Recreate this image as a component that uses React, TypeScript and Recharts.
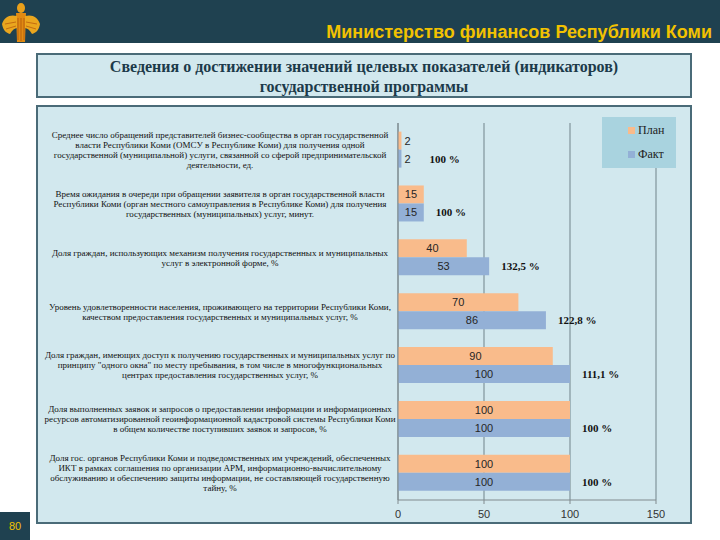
import React from "react";
import { BarChart, Bar, XAxis, YAxis, CartesianGrid, LabelList } from "recharts";

const indicators = [
  "Среднее число обращений представителей бизнес-сообщества в орган государственной\nвласти Республики Коми (ОМСУ в Республике Коми) для получения одной\nгосударственной (муниципальной) услуги, связанной со сферой предпринимательской\nдеятельности, ед.",
  "Время ожидания в очереди при обращении заявителя в орган государственной власти\nРеспублики Коми (орган местного самоуправления в Республике Коми) для получения\nгосударственных (муниципальных) услуг, минут.",
  "Доля граждан, использующих механизм получения государственных и муниципальных\nуслуг в электронной форме, %",
  "Уровень удовлетворенности населения, проживающего на территории Республики Коми,\nкачеством предоставления государственных и муниципальных услуг, %",
  "Доля граждан, имеющих доступ к получению государственных и муниципальных услуг по\nпринципу \"одного окна\" по месту пребывания, в том числе в многофункциональных\nцентрах предоставления государственных услуг, %",
  "Доля выполненных заявок и запросов о предоставлении информации и информационных\nресурсов автоматизированной геоинформационной кадастровой системы Республики Коми\nв общем количестве поступивших заявок и запросов, %",
  "Доля гос. органов Республики Коми и подведомственных им учреждений, обеспеченных\nИКТ в рамках соглашения по организации АРМ, информационно-вычислительному\nобслуживанию и обеспечению защиты информации, не составляющей государственную\nтайну, %",
];
const plan = [2, 15, 40, 70, 90, 100, 100];
const fact = [2, 15, 53, 86, 100, 100, 100];
const achievement = ["100 %", "100 %", "132,5 %", "122,8 %", "111,1 %", "100 %", "100 %"];
const xTicks = [0, 50, 100, 150];
const seriesNames = ["План", "Факт"];

const data = indicators.map((name, i) => ({ name, plan: plan[i], fact: fact[i], pct: achievement[i] }));

const PLAN_COLOR = "#f9bb8b";
const FACT_COLOR = "#93b0d6";
const BOX_BG = "#d2e8ee";
const BOX_BORDER = "#4a6b78";
const DARK = "#1f4150";
const GOLD = "#f2c200";
const SERIF = "'Liberation Serif', 'Times New Roman', serif";
const SANS = "'Liberation Sans', Arial, sans-serif";

function IndicatorTick(props: any) {
  const { x, y, payload } = props;
  const lines = String(payload.value).split("\n");
  const lh = 10;
  const top = y - ((lines.length - 1) * lh) / 2;
  const cx = x - 170;
  return (
    <text textAnchor="middle" fill="#111" style={{ fontFamily: SERIF, fontSize: 9 }}>
      {lines.map((l, i) => (
        <tspan key={i} x={cx} y={top + i * lh} dominantBaseline="central">
          {l}
        </tspan>
      ))}
    </text>
  );
}

function ValueLabel(props: any) {
  const { x, y, width, height, value } = props;
  const small = width < 12;
  return (
    <text
      x={small ? x + width + 3 : x + width / 2}
      y={y + height / 2}
      textAnchor={small ? "start" : "middle"}
      dominantBaseline="central"
      fill="#262626"
      style={{ fontFamily: SANS, fontSize: 11 }}
    >
      {value}
    </text>
  );
}

function PercentLabel(props: any) {
  const { x, y, width, height, value } = props;
  return (
    <text
      x={x + width + (width < 10 ? 28 : 12)}
      y={y + height / 2}
      dominantBaseline="central"
      fill="#111"
      style={{ fontFamily: SERIF, fontSize: 11, fontWeight: "bold" }}
    >
      {value}
    </text>
  );
}

function LegendBox() {
  const colors = [PLAN_COLOR, FACT_COLOR];
  return (
    <div
      style={{
        position: "absolute",
        left: 602,
        top: 117,
        background: "#a9d3df",
        width: 74,
        height: 51,
        paddingTop: 1,
        boxSizing: "border-box",
      }}
    >
      {seriesNames.map((label, i) => (
        <div key={label} style={{ display: "flex", alignItems: "center", height: 24 }}>
          <span style={{ width: 7, height: 7, background: colors[i], marginLeft: 26, marginRight: 3 }} />
          <span style={{ fontFamily: SERIF, fontSize: 12, color: "#222" }}>{label}</span>
        </div>
      ))}
    </div>
  );
}

function Logo() {
  return (
    <svg width={44} height={43} style={{ position: "absolute", left: 0, top: 0 }}>
      <ellipse cx={21} cy={8} rx={4} ry={5} fill="#e9a01a" />
      <path d="M16 13 L26 13 L25 42 L17 42 Z" fill="#e08a12" />
      <path d="M17 16 C10 14 4 17 2 24 C3 30 6 33 10 34 C12 30 15 28 17 28 Z" fill="#eaa61e" />
      <path d="M25 16 C32 14 38 17 40 24 C39 30 36 33 32 34 C30 30 27 28 25 28 Z" fill="#eaa61e" />
      <path d="M18 18 L18 40 M21 18 L21 41 M24 18 L24 40" stroke="#b8600c" strokeWidth={1} />
      <path d="M5 24 L16 22 M6 29 L16 26 M37 24 L26 22 M36 29 L26 26" stroke="#c46d10" strokeWidth={1} />
    </svg>
  );
}

export default function App() {
  return (
    <div style={{ position: "absolute", left: 0, top: 0, width: 720, height: 540, background: "#fff", overflow: "hidden" }}>
      <div style={{ position: "absolute", left: 0, top: 0, width: 720, height: 43, background: DARK }} />
      <Logo />
      <div
        style={{
          position: "absolute",
          right: 8,
          top: 21,
          color: GOLD,
          fontFamily: SANS,
          fontWeight: "bold",
          fontSize: 18,
          lineHeight: "22px",
          whiteSpace: "nowrap",
        }}
      >
        Министерство финансов Республики Коми
      </div>

      <div
        style={{
          position: "absolute",
          left: 36,
          top: 53,
          width: 656,
          height: 45,
          background: BOX_BG,
          border: `2px solid ${BOX_BORDER}`,
          boxSizing: "border-box",
          textAlign: "center",
          fontFamily: SERIF,
          fontWeight: "bold",
          fontSize: 16,
          lineHeight: "20px",
          color: "#1c3a4a",
          paddingTop: 2,
        }}
      >
        Сведения о достижении значений целевых показателей (индикаторов)
        <br />
        государственной программы
      </div>

      <div
        style={{
          position: "absolute",
          left: 36,
          top: 105,
          width: 656,
          height: 419,
          background: BOX_BG,
          border: `2px solid ${BOX_BORDER}`,
          boxSizing: "border-box",
        }}
      />
      <div style={{ position: "absolute", left: 36, top: 105 }}>
        <BarChart
          width={656}
          height={419}
          data={data}
          layout="vertical"
          margin={{ top: 18, right: 36, bottom: 0, left: 0 }}
          barCategoryGap="16%"
          barGap={0}
        >
          <CartesianGrid horizontal={false} stroke="#71838a" />
          <XAxis
            type="number"
            domain={[0, 150]}
            ticks={xTicks}
            height={24}
            tickSize={4}
            tickMargin={6}
            stroke="#808a8e"
            tick={{ fontSize: 11, fill: "#333", fontFamily: SANS }}
          />
          <YAxis
            type="category"
            dataKey="name"
            width={362}
            tickLine={false}
            stroke="#808a8e"
            tick={<IndicatorTick />}
            interval={0}
          />
          <Bar dataKey="plan" name={seriesNames[0]} fill={PLAN_COLOR} isAnimationActive={false}>
            <LabelList dataKey="plan" content={<ValueLabel />} />
          </Bar>
          <Bar dataKey="fact" name={seriesNames[1]} fill={FACT_COLOR} isAnimationActive={false}>
            <LabelList dataKey="fact" content={<ValueLabel />} />
            <LabelList dataKey="pct" content={<PercentLabel />} />
          </Bar>
        </BarChart>
      </div>
      <LegendBox />

      <div
        style={{
          position: "absolute",
          left: 0,
          top: 512,
          width: 30,
          height: 28,
          background: DARK,
          color: GOLD,
          fontFamily: SANS,
          fontSize: 11,
          textAlign: "center",
          lineHeight: "28px",
        }}
      >
        80
      </div>
    </div>
  );
}
